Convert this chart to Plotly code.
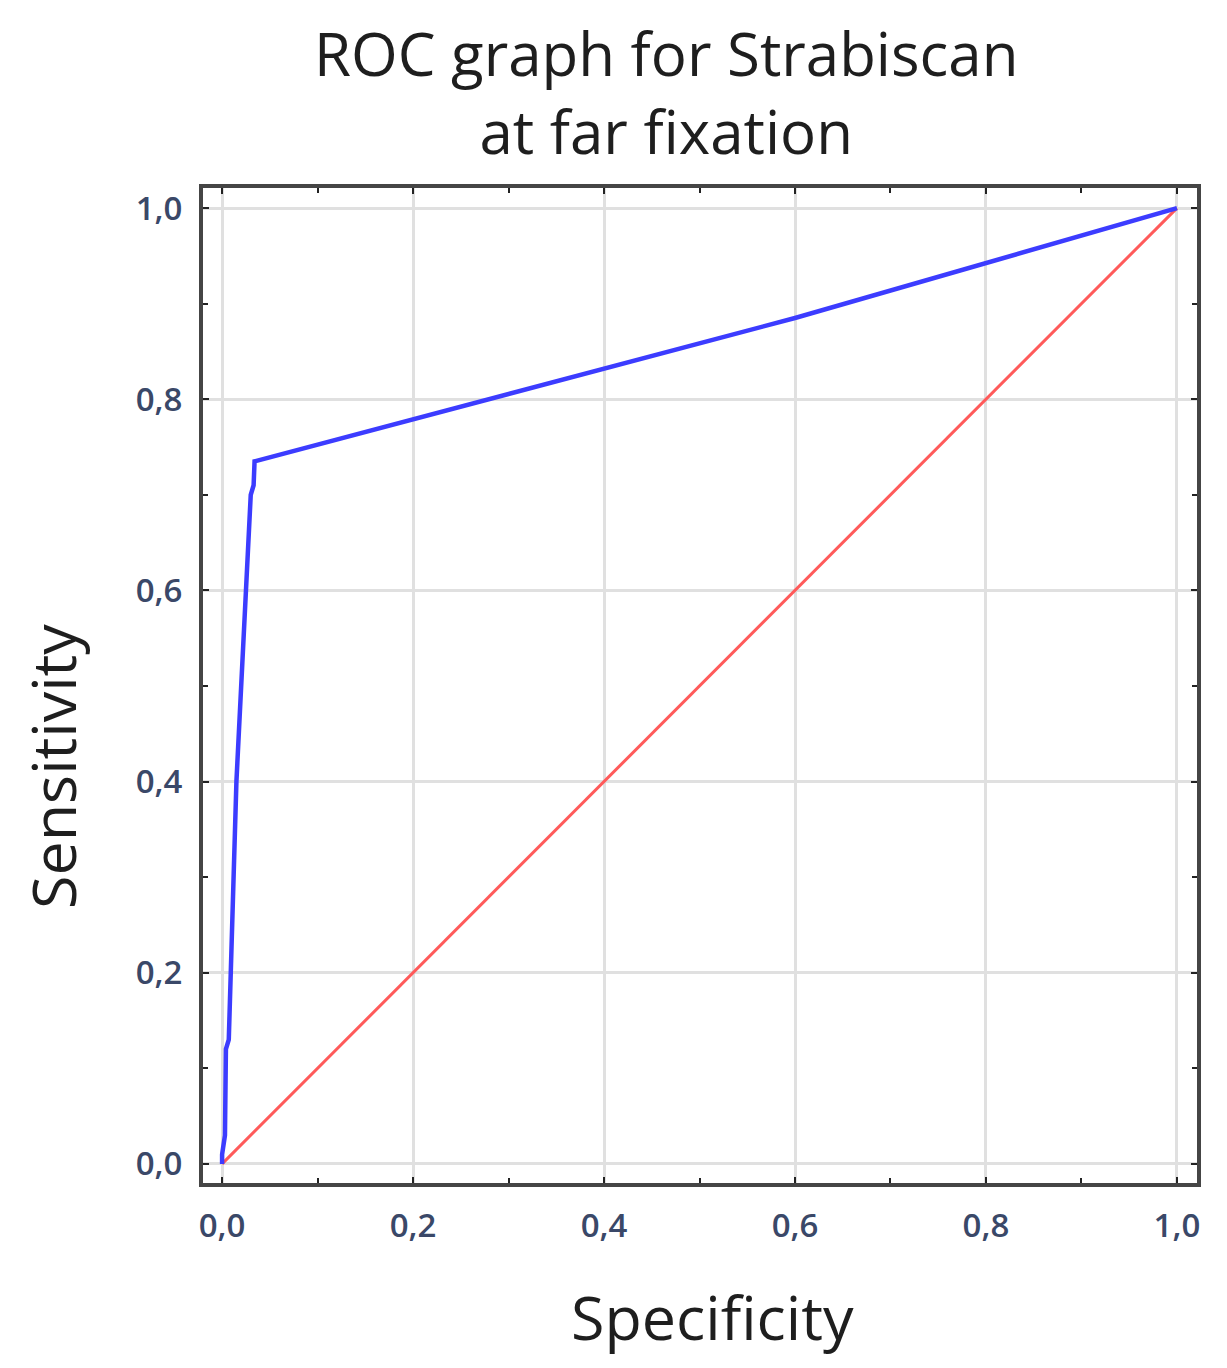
import plotly.graph_objects as go

# ROC curve (Specificity axis as drawn, Sensitivity)
roc_x = [0.0, 0.0, 0.003, 0.004, 0.007, 0.015, 0.030, 0.033, 0.034, 0.30, 0.60, 1.0]
roc_y = [0.0, 0.01, 0.03, 0.12, 0.13, 0.40, 0.70, 0.71, 0.735, 0.805, 0.885, 1.0]
ref_x = [0.0, 1.0]
ref_y = [0.0, 1.0]

tick_vals = [0.0, 0.2, 0.4, 0.6, 0.8, 1.0]

title_text = "ROC graph for Strabiscan<br>at far fixation"
x_title = "Specificity"
y_title = "Sensitivity"

# page body has an 8px default margin -> shift everything by -8
OFF = 8

fig = go.Figure()
fig.add_trace(go.Scatter(x=ref_x, y=ref_y, mode="lines",
                         line=dict(color="#ff5a5a", width=3), showlegend=False))
fig.add_trace(go.Scatter(x=roc_x, y=roc_y, mode="lines",
                         line=dict(color="#3c3cff", width=4.5), showlegend=False))

tickfont = dict(family="Open Sans", size=33, color="#3a4868", weight=600)
axis_common = dict(
    showgrid=True, gridcolor="#e0e0e0", gridwidth=2.5,
    showline=True, linecolor="#454545", linewidth=4, mirror="allticks",
    ticks="inside", ticklen=6, tickwidth=2, tickcolor="#222",
    tickvals=tick_vals, tickformat=".1f", tickfont=tickfont,
    ticklabelstandoff=10,
    minor=dict(dtick=0.1, ticks="inside", ticklen=5, tickwidth=2, tickcolor="#222", showgrid=False),
    zeroline=False,
)
fig.update_xaxes(range=[-0.02, 1.021], **axis_common)
fig.update_yaxes(range=[-0.02, 1.021], **axis_common)

L, T = 203 - OFF, 188 - OFF
fig.update_layout(
    width=1227, height=1368,
    margin=dict(l=L, r=1227 - (1197 - OFF), t=T, b=1368 - (1183 - OFF)),
    plot_bgcolor="white", paper_bgcolor="white",
    separators=",.",
    font=dict(family="Open Sans", color="#222"),
)

PW, PH = 994, 995
def px(xpix):
    return (xpix - 203) / PW
def py(ypix):
    return (1183 - ypix) / PH

fig.add_annotation(text=title_text, xref="paper", yref="paper",
                   x=px(666), y=py(92),
                   showarrow=False, font=dict(family="Open Sans", size=60, color="#1e1e1e"),
                   xanchor="center", yanchor="middle", align="center")
fig.add_annotation(text=x_title, xref="paper", yref="paper",
                   x=px(712), y=py(1316),
                   showarrow=False, font=dict(family="Open Sans", size=61, color="#1e1e1e"),
                   xanchor="center", yanchor="middle")
fig.add_annotation(text=y_title, xref="paper", yref="paper",
                   x=px(52), y=py(767), textangle=-90,
                   showarrow=False, font=dict(family="Open Sans", size=61, color="#1e1e1e"),
                   xanchor="center", yanchor="middle")

fig.write_html("out.html")
